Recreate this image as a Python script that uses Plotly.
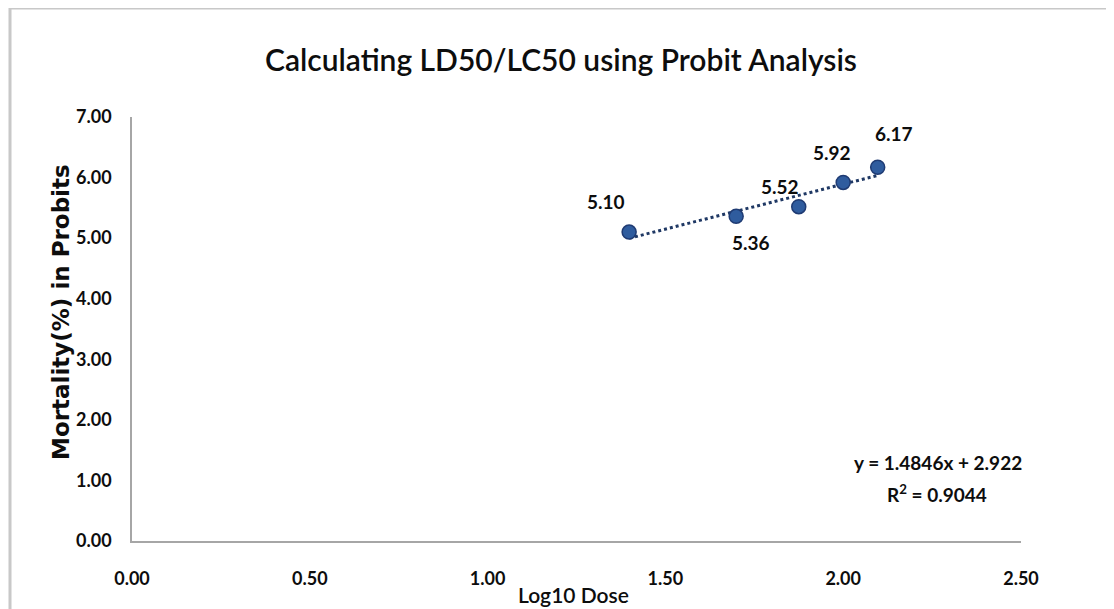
import plotly.graph_objects as go

log_dose = [1.398, 1.699, 1.875, 2.000, 2.097]
probits = [5.10, 5.36, 5.52, 5.92, 6.17]
point_labels = ["5.10", "5.36", "5.52", "5.92", "6.17"]
slope = 1.4846
intercept = 2.922
r_squared = 0.9044
x_ticks = [0.0, 0.5, 1.0, 1.5, 2.0, 2.5]
y_ticks = [0, 1, 2, 3, 4, 5, 6, 7]

label_shift = [(-23, 31), (15, -26), (-19, 20), (-11, 30), (16, 34)]

# page offset (browser body margin)
OFF = 8
W, H = 1114 - OFF, 609 - OFF
PL, PR, PT, PB = 132, 1021, 117, 541   # plot area in page pixels
L, T = PL - OFF, PT - OFF
R = W - (PR - OFF)
B = H - (PB - OFF)
pw, ph = PR - PL, PB - PT

def px(xpage):
    return (xpage - PL) / pw

def py(ypage):
    return (PB - ypage) / ph

FONT = "Lato"
TXT = "#0d0d0d"

fig = go.Figure()

x0, x1 = min(log_dose), max(log_dose)
fig.add_trace(go.Scatter(
    x=[x0, x1], y=[slope * x0 + intercept, slope * x1 + intercept],
    mode="lines", line=dict(color="#1F3864", width=3, dash="dot"),
    hoverinfo="skip", showlegend=False))

fig.add_trace(go.Scatter(
    x=log_dose, y=probits, mode="markers",
    marker=dict(size=14, color="#2F5C9E", line=dict(color="#1F3B73", width=1.5)),
    showlegend=False))

annotations = []
for xv, yv, lab, (dx, dy) in zip(log_dose, probits, point_labels, label_shift):
    annotations.append(dict(x=xv, y=yv, xref="x", yref="y", text=lab, showarrow=False,
                            xshift=dx, yshift=dy, xanchor="center", yanchor="middle",
                            font=dict(family=FONT, size=19, color=TXT, weight=700)))

annotations.append(dict(x=px(938), y=py(462), xref="paper", yref="paper",
                        xanchor="center", yanchor="middle",
                        text=f"y = {slope}x + {intercept}", showarrow=False,
                        font=dict(family=FONT, size=19, color=TXT, weight=700)))
annotations.append(dict(x=px(937), y=py(493), xref="paper", yref="paper",
                        xanchor="center", yanchor="middle",
                        text=f"R<sup>2</sup> = {r_squared}", showarrow=False,
                        font=dict(family=FONT, size=19, color=TXT, weight=700)))
annotations.append(dict(x=px(61), y=py(312), xref="paper", yref="paper",
                        xanchor="center", yanchor="middle",
                        text="<b>Mortality(%) in Probits</b>", textangle=-90, showarrow=False,
                        font=dict(family="DejaVu Sans", size=23, color=TXT)))
annotations.append(dict(x=px(573), y=py(594), xref="paper", yref="paper",
                        xanchor="center", yanchor="middle",
                        text="Log10 Dose", showarrow=False,
                        font=dict(family=FONT, size=21, color=TXT, weight=600)))

shapes = [
    dict(type="line", xref="paper", yref="paper", x0=px(10), x1=px(10), y0=py(615), y1=py(8),
         line=dict(color="#C8C8C8", width=3)),
    dict(type="line", xref="paper", yref="paper", x0=px(10), x1=px(1120), y0=py(8), y1=py(8),
         line=dict(color="#C8C8C8", width=3)),
]

fig.update_layout(
    width=W, height=H,
    margin=dict(l=L, r=R, t=T, b=B, autoexpand=False),
    paper_bgcolor="white", plot_bgcolor="white",
    title=dict(text="Calculating LD50/LC50 using Probit Analysis",
               x=(561 - OFF) / W, y=1 - (60 - OFF) / H, xanchor="center", yanchor="middle",
               font=dict(family=FONT, size=30, color=TXT, weight=600)),
    xaxis=dict(range=[0, 2.5], tickvals=x_ticks, ticktext=[f"{v:.2f}" for v in x_ticks],
               showgrid=False, zeroline=False, showline=True, linecolor="#A6A6A6", linewidth=1.5,
               ticks="", ticklabelstandoff=21,
               tickfont=dict(family=FONT, size=18, color=TXT, weight=700)),
    yaxis=dict(range=[0, 7], tickvals=y_ticks, ticktext=[f"{v:.2f}" for v in y_ticks],
               showgrid=False, zeroline=False, showline=True, linecolor="#A6A6A6", linewidth=1.5,
               ticks="", ticklabelstandoff=15,
               tickfont=dict(family=FONT, size=18, color=TXT, weight=700)),
    annotations=annotations, shapes=shapes,
)

fig.write_html("out.html")
